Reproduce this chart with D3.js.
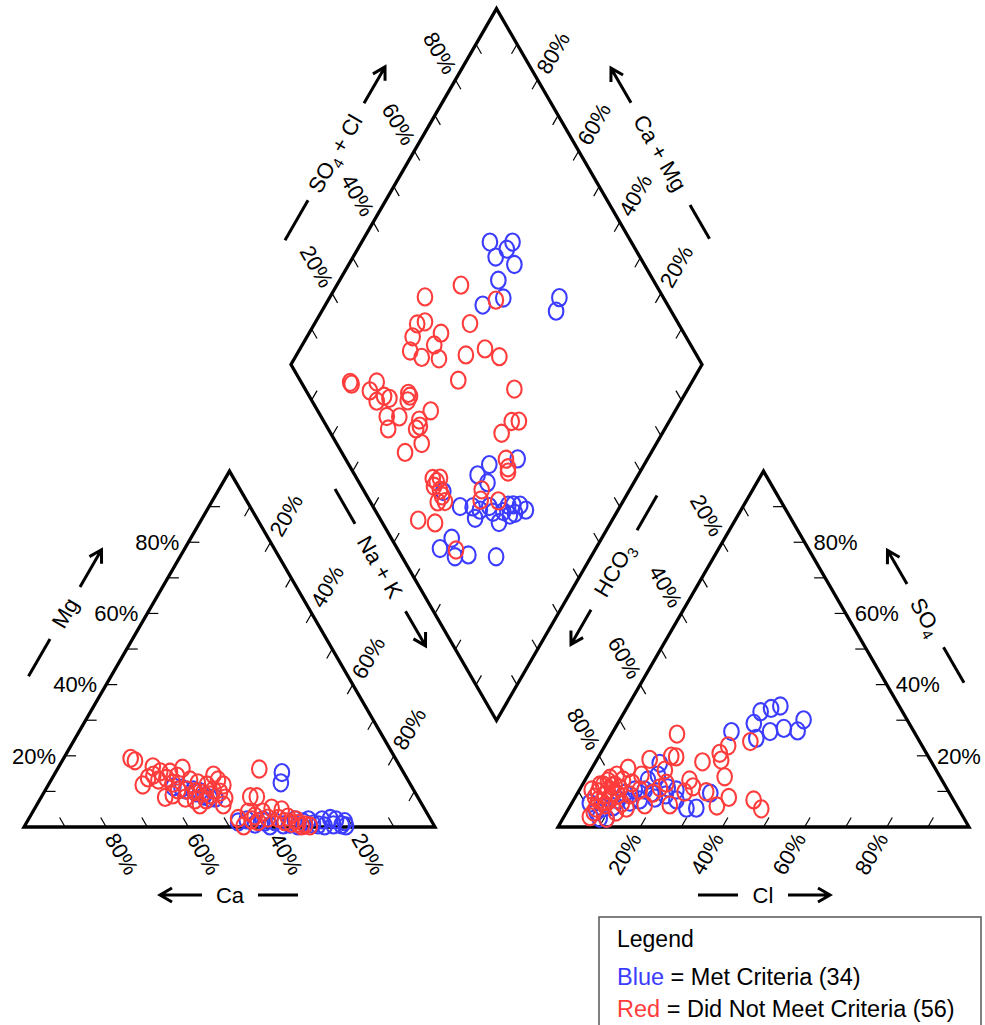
<!DOCTYPE html>
<html>
<head>
<meta charset="utf-8">
<script src="https://cdn.jsdelivr.net/npm/d3@7"></script>
<style>
  body { margin: 0; background: #fff; }
  svg { display: block; font-family: "Liberation Sans", Arial, sans-serif; }
</style>
</head>
<body>
<svg id="chart" width="985" height="1025"></svg>
<script>
/* Piper diagram: cation triangle (left), anion triangle (right) and the
 * combined diamond on top. */

const tickValues = d3.range(10, 100, 10);
const labelValues = [20, 40, 60, 80];

// cation triangle, [Ca %, Mg %]  (Na + K = remainder)
const cationBlue = [[58,11.3],[56.2,10.9],[53.6,10.4],[52.2,9.9],[50.7,8.1],[44.8,2],[29.6,15.3],[31.3,12.4],
  [38.2,1.5],[36.6,0.6],[29.8,2],[28.1,0.6],[24.3,2.4],[24.4,0.6],[22.4,0.6],[21.2,1.5],[55.4,10.4],[53.4,9.6],
  [51.9,8.7],[49.4,8.1],[40.7,1.4],[34.9,0.8],[33.2,0.3],[31.4,1.4],[29.3,0.8],[26.7,0.3],[23.1,2],[26.5,2],
  [33.1,2],[40,0.3],[43.4,0.8],[47.2,1.4],[40.9,2],[21.5,0.3]];
const cationRed = [[64.4,19.3],[63.7,18.6],[60.2,16.9],[59.1,15.5],[53.2,16.5],[46.6,14.6],[45.6,11.8],[65.2,11.8],
  [61.5,8.3],[54.1,6.2],[48.4,6.2],[60.7,13.2],[58.5,13.7],[57.6,12.3],[61.2,14.6],[57.3,10.4],[55.2,10.4],
  [53.4,9.9],[51.7,9.5],[50.2,9],[49.6,11.8],[48.7,10.4],[46.7,2.4],[34.6,16.3],[40.7,8.5],[39.1,8.5],[43.6,2],
  [42.3,1.5],[37.1,5.3],[34.9,4.8],[36.9,2.4],[35.8,1.5],[34.4,1],[32.8,1],[31.3,0.6],[30.3,0.3],[62.9,13.8],
  [56.8,15.4],[55.6,14.3],[53,13.2],[51.5,12.4],[47.4,9.8],[47,8.1],[46.2,13.2],[56.7,8.1],[54.6,7.6],[51.9,7.6],
  [59.3,9],[39.8,4.2],[39.4,2.5],[34.4,2.8],[32.8,2],[32.3,0.3],[42.3,3.1],[43.4,4.2],[46.4,0.3]];

// anion triangle, [Cl %, SO4 %]  (HCO3 = remainder)
const anionBlue = [[33.1,32.4],[35.2,33.3],[37.1,34],[33.1,29.1],[35.8,24.9],[38.2,26.8],[41.1,27.7],[44.8,27],
  [44.7,30.1],[28.8,26.8],[32.3,9.5],[31,5.3],[15.8,17.9],[17,14.6],[13.5,10.4],[11.5,9.5],[4.4,6.7],[7.2,4.3],
  [10.6,5.7],[23.6,10.4],[25,7.6],[19.5,8.1],[28.6,5.3],[15.3,13.2],[10.6,2.4],[18,9.5],[8.9,2.5],[10.8,7.6],
  [16.1,7.6],[21.7,9],[8.3,5.3],[14,7],[15.9,10.4],[21.2,11]];
const anionRed = [[34.8,24],[30,22.8],[29,20.7],[30.3,18.8],[26,18.3],[33.5,14.1],[37.4,8.3],[35.7,5.9],[43.8,7.6],
  [46.9,5.1],[31.1,9.9],[25.4,13.2],[27.2,11.3],[15.9,26.1],[12.8,19],[17.6,19.9],[18.9,19.7],[8.8,16.5],[7,14.6],
  [5.1,11.8],[4.8,9.9],[3,10.4],[6.3,2.9],[10.6,2.4],[5.8,13.7],[9.6,10.9],[8.7,9.5],[6.9,9],[7.1,7.1],[8.8,7.6],
  [14,5.3],[13,14.6],[18.4,9.5],[20.2,12.3],[24.1,6.2],[7.9,11.8],[6,7.6],[4.8,8.4],[6.9,10.4],[10.1,9],[7.4,11.5],
  [4.3,11.8],[9.2,13.2],[8.3,6.2],[6.6,5.3],[11.8,12.4],[14.7,10.4],[19.3,11],[18,16],[6.6,4.2],[12,4.2],[13,9],
  [18,6.2],[25.9,9.8],[5.7,12.9],[12.2,6.7]];

// diamond, [Ca + Mg %, SO4 + Cl %]
const diamondBlue = [[68.8,65.6],[63.3,71.1],[63.7,68.7],[65.3,64.9],[59.7,68.4],[61.4,62.3],[57.7,61.0],[61.7,55.0],
  [44.1,74.7],[43.0,72.0],[31.6,41.9],[37.7,34.2],[39.1,29.9],[35.6,31.2],[45.1,19.2],[38.9,21.2],[35.8,24.2],
  [33.6,23.2],[31.8,28.3],[27.2,28.4],[27.4,33.1],[26.2,34.4],[24.6,33.6],[22.4,36.7],[27.7,31.0],[36.5,14.7],
  [37.9,10.4],[33.1,12.9],[30.1,16.4],[23.1,22.9],[24.5,36.0],[30.1,28.4],[33.6,25.5],[25.6,32.1]];
const diamondRed = [[69.8,52.5],[59.2,58.9],[76.9,42.1],[62.2,49.3],[73.4,38.6],[75.0,36.4],[67.9,40.9],[74.3,33.5],
  [67.9,37.6],[72.9,30.9],[69.2,32.8],[64.8,36.8],[58.8,43.9],[55.0,49.4],[50.4,51.8],[83.1,11.9],[82.5,12.0],
  [77.1,15.5],[76.7,18.4],[74.0,15.7],[71.3,19.2],[67.4,24.5],[66.5,23.3],[69.4,16.0],[66.3,19.0],[67.3,14.6],
  [60.5,21.4],[61.0,23.4],[59.5,27.5],[57.1,20.7],[59.9,15.4],[57.1,38.5],[42.2,50.9],[39.1,41.6],[38.3,45.7],
  [36.6,47.5],[34.4,39.0],[49.5,18.5],[48.1,19.0],[46.1,18.6],[45.0,16.4],[43.3,18.2],[47.2,9.1],[42.7,12.8],
  [33.8,14.1],[36.0,28.8],[34.8,27.1],[30.4,31.3],[32.7,38.3],[48.1,17.7],[44.8,18.3],[47.8,20.3],[72.9,18.2],
  [66.6,24.5],[60.0,22.7],[32.1,37.7]];

const BLUE = "#3c3cff", RED = "#ff3c3c";
const FONT = 22;

/* --- Geometry ------------------------------------------------------------- */
const S = 411, BASE = 827, GAP = 123, X0 = 24;
const H = S * Math.sqrt(3) / 2;
const frac = d3.scaleLinear().domain([0, 100]).range([0, 1]);

const cat = { a: [X0, BASE], b: [X0 + S, BASE], c: [X0 + S / 2, BASE - H] };                 // Ca, Na+K, Mg
const an = { a: [X0 + S + GAP, BASE], b: [X0 + 2 * S + GAP, BASE], c: [X0 + S + GAP + S / 2, BASE - H] }; // HCO3, Cl, SO4
const dB = [X0 + S + GAP / 2, BASE - GAP / 2 * Math.sqrt(3)];
const dL = [dB[0] - S / 2, dB[1] - H], dR = [dB[0] + S / 2, dB[1] - H], dT = [dB[0], dB[1] - 2 * H];

function bary(t, wa, wb, wc) {
  return [t.a[0] * wa + t.b[0] * wb + t.c[0] * wc, t.a[1] * wa + t.b[1] * wb + t.c[1] * wc];
}
const cationPos = (ca, mg) => bary(cat, frac(ca), frac(100 - ca - mg), frac(mg));
const anionPos = (cl, so4) => bary(an, frac(100 - cl - so4), frac(cl), frac(so4));
function diamondPos(camg, scl) {
  const c = frac(camg), s = frac(scl);
  return [dB[0] + c * (dL[0] - dB[0]) + s * (dR[0] - dB[0]),
          dB[1] + c * (dL[1] - dB[1]) + s * (dR[1] - dB[1])];
}

const svg = d3.select("#chart");
svg.append("rect").attr("width", 985).attr("height", 1025).attr("fill", "#fff");

/* --- Outlines ------------------------------------------------------------- */
const line = d3.line();
[[cat.a, cat.b, cat.c], [an.a, an.b, an.c], [dB, dL, dT, dR]].forEach(poly => {
  svg.append("path").attr("d", line(poly) + "Z")
    .attr("fill", "none").attr("stroke", "#000").attr("stroke-width", 3.3)
    .attr("stroke-linejoin", "miter");
});

/* --- Ticks and percent labels -------------------------------------------- */
const K = Math.sqrt(3) / 2;
const sides = [
  { at: v => cationPos(v, 0), dir: [-0.5, -K], rot: 60, anchor: "start" },        // Ca
  { at: v => cationPos(100 - v, v), dir: [1, 0], rot: 0, anchor: "end" },         // Mg
  { at: v => cationPos(0, 100 - v), dir: [-0.5, K], rot: -60, anchor: "start" },  // Na + K
  { at: v => anionPos(v, 0), dir: [0.5, -K], rot: -60, anchor: "end" },           // Cl
  { at: v => anionPos(100 - v, v), dir: [-1, 0], rot: 0, anchor: "start" },       // SO4
  { at: v => anionPos(0, 100 - v), dir: [0.5, K], rot: 60, anchor: "end" },       // HCO3
  { at: v => diamondPos(100, v), dir: [0.5, K], rot: 60, anchor: "end" },         // SO4 + Cl
  { at: v => diamondPos(v, 100), dir: [-0.5, K], rot: -60, anchor: "start" },     // Ca + Mg
  { at: v => diamondPos(v, 0), dir: [0.5, -K] },
  { at: v => diamondPos(0, v), dir: [-0.5, -K] },
];

const TICK = 11, LGAP = 9;
sides.forEach(sd => {
  svg.append("g").selectAll("line").data(tickValues).join("line")
    .attr("x1", v => sd.at(v)[0]).attr("y1", v => sd.at(v)[1])
    .attr("x2", v => sd.at(v)[0] + sd.dir[0] * TICK).attr("y2", v => sd.at(v)[1] + sd.dir[1] * TICK)
    .attr("stroke", "#000").attr("stroke-width", 1.2);
  if (sd.anchor === undefined) return;
  svg.append("g").selectAll("text").data(labelValues).join("text")
    .attr("transform", v => {
      const p = sd.at(v);
      return `translate(${p[0] - sd.dir[0] * LGAP},${p[1] - sd.dir[1] * LGAP}) rotate(${sd.rot})`;
    })
    .attr("text-anchor", sd.anchor).attr("dy", "0.35em")
    .attr("font-size", FONT).attr("fill", "#000")
    .text(v => v + "%");
});

/* --- Axis titles with dash + arrow --------------------------------------- */
function title(cx, cy, rot, parts, textAt, dash, arrow) {
  const g = svg.append("g").attr("transform", `translate(${cx},${cy}) rotate(${rot})`);
  const t = g.append("text").attr("x", textAt).attr("dy", "0.35em")
    .attr("text-anchor", "middle").attr("font-size", FONT);
  let shift = 0;
  parts.forEach(p => {
    const sub = typeof p !== "string";
    const s = t.append("tspan").text(sub ? p.sub : p)
      .attr("font-size", sub ? 15 : FONT);
    const want = sub ? 5 : 0;
    if (want !== shift) { s.attr("dy", want - shift); shift = want; }
  });
  const st = { stroke: "#000", "stroke-width": 3, fill: "none" };
  const dl = g.append("line").attr("x1", dash[0]).attr("x2", dash[1]).attr("y1", 0).attr("y2", 0);
  const [tail, tip] = arrow, d = Math.sign(tip - tail);
  const al = g.append("path")
    .attr("d", `M${tail},0L${tip},0M${tip - d * 12},-7L${tip},0L${tip - d * 12},7`);
  [dl, al].forEach(s => Object.entries(st).forEach(([k, v]) => s.attr(k, v)));
}

title(65, 613, -60, ["Mg"], 0, [-73, -30], [30, 73]);
title(230, 895, 0, ["Ca"], 0, [28, 68], [-28, -70]);
title(380, 567, 60, ["Na + K"], 0, [-90, -50], [51, 91]);
title(614, 570, -60, ["HCO", { sub: "3" }], 0, [46, 86], [-46, -86]);
title(926, 617, 60, ["SO", { sub: "4" }], 0, [35, 76], [-38, -77]);
title(763, 895, 0, ["Cl"], 0, [-65, -25], [25, 67]);
title(333, 157, -60, ["SO", { sub: "4" }, " + Cl"], 4, [-96, -50], [62, 104]);
title(660, 153, 60, ["Ca + Mg"], 0, [60, 99], [-58, -98]);

/* --- Sample points -------------------------------------------------------- */
function points(data, pos, color) {
  svg.append("g").selectAll("ellipse").data(data).join("ellipse")
    .attr("cx", d => pos(d[0], d[1])[0]).attr("cy", d => pos(d[0], d[1])[1])
    .attr("rx", 7.3).attr("ry", 8.6)
    .attr("fill", "none").attr("stroke", color).attr("stroke-width", 2.1);
}
points(cationBlue, cationPos, BLUE);
points(cationRed, cationPos, RED);
points(anionBlue, anionPos, BLUE);
points(anionRed, anionPos, RED);
points(diamondBlue, diamondPos, BLUE);
points(diamondRed, diamondPos, RED);

/* --- Legend --------------------------------------------------------------- */
const legendItems = [
  { name: "Blue", color: BLUE, label: " = Met Criteria (" + cationBlue.length + ")" },
  { name: "Red", color: RED, label: " = Did Not Meet Criteria (" + cationRed.length + ")" },
];
svg.append("rect").attr("x", 599).attr("y", 917).attr("width", 382).attr("height", 130)
  .attr("fill", "#fff").attr("stroke", "#555").attr("stroke-width", 1.5);
svg.append("text").attr("x", 617).attr("y", 947).attr("font-size", 23).text("Legend");
legendItems.forEach((it, i) => {
  const t = svg.append("text").attr("x", 617).attr("y", 985 + i * 32).attr("font-size", 23.5);
  t.append("tspan").attr("fill", it.color).text(it.name);
  t.append("tspan").attr("fill", "#000").text(it.label);
});
</script>
</body>
</html>
